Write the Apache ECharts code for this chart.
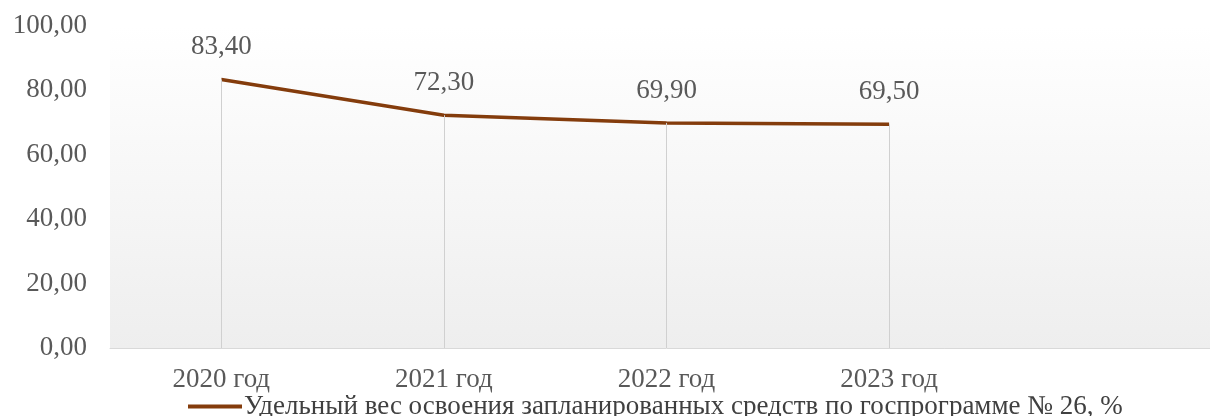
<!DOCTYPE html>
<html><head><meta charset="utf-8">
<script src="https://cdn.jsdelivr.net/npm/echarts@6/dist/echarts.min.js"></script>
<style>html,body{margin:0;padding:0;background:#fff;overflow:hidden;width:1210px;height:416px}#c{width:1223px;height:416px}</style>
</head><body><div id="c"></div>
<script>
var categories = ['2020 год', '2021 год', '2022 год', '2023 год', ''];
var values = [83.40, 72.30, 69.90, 69.50, null];
var seriesName = 'Удельный вес освоения запланированных средств по госпрограмме № 26, %';
var yMin = 0, yMax = 100, yStep = 20;

function fmt(v){ return v.toFixed(2).replace('.', ','); }

var dropLines = [];
values.forEach(function(v, i){
  if (v != null) dropLines.push([{coord:[categories[i], v]}, {coord:[categories[i], 0]}]);
});

var FS = 27;
var chart = echarts.init(document.getElementById('c'));
chart.setOption({
  animation: false,
  textStyle: {fontFamily: 'Liberation Serif'},
  grid: {left: 110, right: 0, top: 26, bottom: 68, show: true, borderWidth: 0,
    backgroundColor: new echarts.graphic.LinearGradient(0,0,0,1,[{offset:0,color:'#ffffff'},{offset:1,color:'#eeeeee'}])},
  legend: {top: 393, left: 188, itemWidth: 54, itemHeight: 4, itemGap: 0, padding: 0,
    icon: 'rect',
    textStyle: {fontFamily: 'Liberation Serif', fontSize: FS, color: '#404040', padding: [0,0,0,-3]},
    data: [seriesName]},
  xAxis: {type: 'category', data: categories, boundaryGap: true,
    axisLine: {lineStyle: {color: '#d9d9d9'}}, axisTick: {show: false},
    axisLabel: {fontFamily: 'Liberation Serif', fontSize: FS, color: '#595959', margin: 18, interval: 0},
    splitLine: {show: false}},
  yAxis: {type: 'value', min: yMin, max: yMax, interval: yStep,
    axisLine: {show: false}, axisTick: {show: false}, splitLine: {show: false},
    axisLabel: {fontFamily: 'Liberation Serif', fontSize: FS, color: '#595959', margin: 23,
      formatter: function(v){ return fmt(v); }}},
  series: [{
    name: seriesName, type: 'line', data: values, showSymbol: true, symbol: 'circle', symbolSize: 0,
    lineStyle: {color: '#843C0C', width: 3.5}, itemStyle: {color: '#843C0C'},
    label: {show: true, position: 'top', distance: 19, fontFamily: 'Liberation Serif', fontSize: FS, color: '#595959',
      formatter: function(p){ return fmt(p.value); }},
    markLine: {silent: true, symbol: 'none', label: {show: false},
      lineStyle: {color: '#d0d0d0', width: 1, type: 'solid'}, data: dropLines},
    z: 3
  }]
});
</script></body></html>
